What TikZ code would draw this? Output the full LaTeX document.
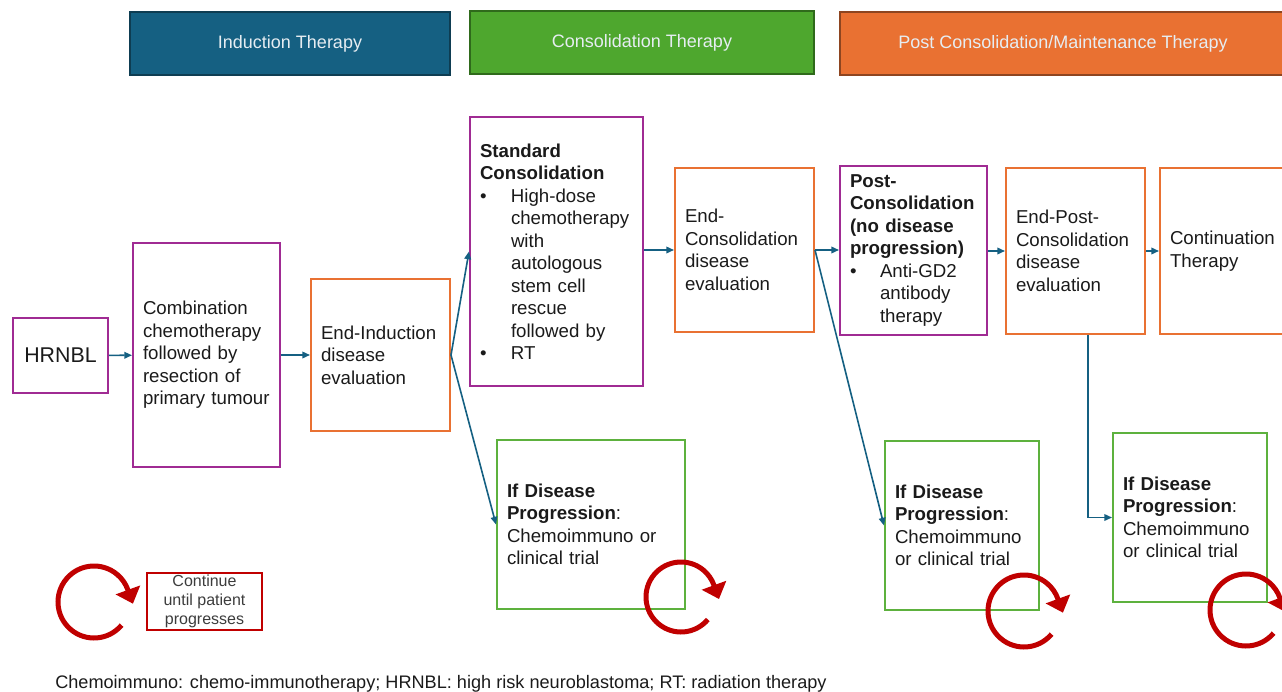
\documentclass[tikz,border=0pt]{standalone}
\usepackage{fontspec}
\setmainfont{Liberation Sans}
\usetikzlibrary{arrows.meta,calc}

% one drawing unit = one pixel of the layout grid
\newlength\px \setlength\px{0.75pt}

\definecolor{hdblue}{HTML}{156082}
\definecolor{hdblueline}{HTML}{0E3D52}
\definecolor{hdgreen}{HTML}{4EA72E}
\definecolor{hdgreenline}{HTML}{2F6A1B}
\definecolor{hdorange}{HTML}{E97132}
\definecolor{hdorangeline}{HTML}{8E4520}
\definecolor{hdtext}{HTML}{E6EDF2}
\definecolor{purplebox}{HTML}{A02B93}
\definecolor{orangebox}{HTML}{E97132}
\definecolor{greenbox}{HTML}{5DB13E}
\definecolor{flowblue}{HTML}{156082}
\definecolor{loopred}{HTML}{C00000}
\definecolor{bodytext}{HTML}{1A1A1A}

\newcommand\bodyfont{\fontsize{14}{16.875}\selectfont}
\newcommand\bitem{\makebox[31\px][l]{•}}
\newcommand\bind{\hspace*{31\px}}

\tikzset{
  header/.style={draw=#1, line width=2\px, inner sep=0pt,
    font=\fontsize{13.5}{16}\selectfont, text=hdtext, minimum height=63\px},
  box/.style={draw=#1, line width=2\px, inner xsep=10\px, inner ysep=0pt,
    align=left, font=\bodyfont, text=bodytext},
  flow/.style={draw=flowblue, line width=1.6\px,
    -{Triangle[length=5.8pt,width=5pt]}},
  cycle arrow/.style={draw=loopred, line width=5\px,
    -{Triangle[length=11pt,width=19pt]}},
}

\begin{document}
\begin{tikzpicture}[x=1\px,y=-1\px]
\useasboundingbox (0,0) rectangle (1282,692);

% phase headers
\node[header=hdblueline, fill=hdblue, minimum width=320\px] (hind) at (290,43.5) {Induction Therapy};
\node[header=hdgreenline, fill=hdgreen, minimum width=344\px] (hcon) at (642,43) {Consolidation Therapy};
\node[header=hdorangeline, fill=hdorange, minimum width=446\px] (hpost) at (1063,43.5) {Post Consolidation/Maintenance Therapy};

% treatment pathway
\node[box=purplebox, align=center, inner xsep=0pt, minimum width=95\px, minimum height=75\px,
      font=\fontsize{16}{19}\selectfont] (hrnbl) at (60.5,355.5) {HRNBL};
\node[box=purplebox, text width=127\px, minimum height=224\px] (combo) at (206.5,355)
  {Combination\\chemotherapy\\followed by\\resection of\\primary tumour};
\node[box=orangebox, text width=119\px, minimum height=152\px] (endind) at (380.5,355)
  {End-Induction\\disease\\evaluation};
\node[box=purplebox, text width=153\px, minimum height=269\px] (std) at (556.5,251.5)
  {\textbf{Standard}\\\textbf{Consolidation}\\\bitem High-dose\\\bind chemotherapy\\\bind with\\\bind autologous\\\bind stem cell\\\bind rescue\\\bind followed by\\\bitem RT};
\node[box=greenbox, text width=168\px, minimum height=169\px] (ifd1) at (591,524.5)
  {\textbf{If Disease}\\\textbf{Progression}:\\Chemoimmuno or\\clinical trial};
\node[box=orangebox, text width=119\px, minimum height=164\px] (endcon) at (744.5,250)
  {End-\\Consolidation\\disease\\evaluation};
\node[box=purplebox, text width=127\px, minimum height=169\px] (post) at (913.5,250.5)
  {\textbf{Post-}\\\textbf{Consolidation}\\\textbf{(no disease}\\\textbf{progression)}\\\makebox[30\px][l]{•}Anti-GD2\\\hspace*{30\px}antibody\\\hspace*{30\px}therapy};
\node[box=greenbox, text width=134\px, minimum height=169\px] (ifd2) at (962,525.5)
  {\textbf{If Disease}\\\textbf{Progression}:\\Chemoimmuno\\or clinical trial};
\node[box=orangebox, text width=119\px, minimum height=166\px] (endpost) at (1075.5,251)
  {End-Post-\\Consolidation\\disease\\evaluation};
\node[box=orangebox, text width=120\px, minimum height=166\px] (cont) at (1230,251)
  {Continuation\\Therapy};
\node[box=greenbox, text width=134\px, minimum height=169\px] (ifd3) at (1190,517.5)
  {\textbf{If Disease}\\\textbf{Progression}:\\Chemoimmuno\\or clinical trial};

% connectors
\draw[flow] (hrnbl) -- (combo);
\draw[flow] (combo) -- (endind);
\draw[flow] (endind.east) -- (std.west);
\draw[flow] (endind.east) -- (ifd1.west);
\draw[flow] (std.east |- endcon.west) -- (endcon.west);
\draw[flow] (endcon.east) -- (post.west |- endcon.east);
\draw[flow] (endcon.east) -- (ifd2.west);
\draw[flow] (post.east |- endpost.west) -- (endpost.west);
\draw[flow] (endpost.east) -- (cont.west |- endpost.east);
\coordinate (drop) at ($(endpost.south)+(12.5,0)$);
\draw[flow] (drop) |- (ifd3.west);

% repeat-cycle marks
\coordinate (loop0) at (94,602);
\coordinate (loop1) at (681,597);
\coordinate (loop2) at (1024,611);
\coordinate (loop3) at (1246,610);
\foreach \c/\r in {loop0/36,loop1/35,loop2/36,loop3/36}{
  \draw[cycle arrow] ($(\c)+(40:\r)$) arc[start angle=40,end angle=340,radius=\r] -- ++(5.1,14);
}

% legend
\node[draw=loopred, line width=2\px, minimum width=115\px, minimum height=57\px,
      inner sep=0pt, align=center, text=bodytext!85,
      font=\fontsize{12}{14.25}\selectfont] (legend) at (204.5,601.5)
  {Continue\\until patient\\progresses};

% abbreviations
\node[anchor=west, inner sep=0pt, text=bodytext, font=\fontsize{13.6}{16}\selectfont] (abbr) at (55,684)
  {Chemoimmuno: chemo-immunotherapy; HRNBL: high risk neuroblastoma; RT: radiation therapy};
\end{tikzpicture}
\end{document}
